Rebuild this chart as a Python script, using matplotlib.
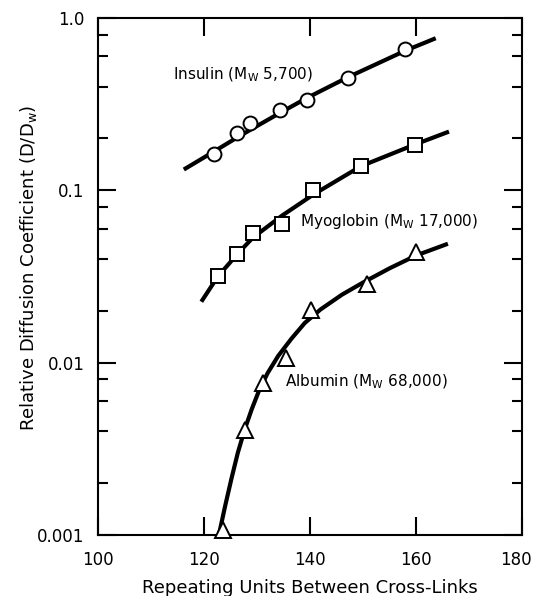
import numpy as np
import matplotlib
matplotlib.use('Agg')
import matplotlib.pyplot as plt
from matplotlib.ticker import LogLocator, FixedLocator, NullFormatter
from matplotlib.transforms import ScaledTranslation

insulin_x = [121.9, 126.2, 128.6, 134.4, 139.4, 147.1, 158.0]
insulin_y = [0.162, 0.216, 0.245, 0.291, 0.334, 0.447, 0.66]

myoglobin_x = [122.6, 126.3, 129.2, 134.8, 140.6, 149.6, 159.7]
myoglobin_y = [0.032, 0.0428, 0.0566, 0.064, 0.100, 0.138, 0.182]

albumin_x = [123.5, 127.7, 131.2, 135.4, 140.2, 150.8, 159.9]
albumin_y = [0.00107, 0.0041, 0.0076, 0.0107, 0.0202, 0.0287, 0.0436]

# hand-drawn fit curves
insulin_fit_x = [116.2, 121.9, 126.2, 128.6, 134.4, 139.4, 147.1, 158.0, 163.7]
insulin_fit_y = [0.132, 0.168, 0.202, 0.223, 0.282, 0.343, 0.452, 0.646, 0.762]

myoglobin_fit_x = [119.5, 122.6, 126.3, 129.2, 134.8, 140.6, 149.6, 159.7, 166.2]
myoglobin_fit_y = [0.0226, 0.0316, 0.0427, 0.0531, 0.0716, 0.0944, 0.138, 0.184, 0.219]

albumin_fit_x = [122.8, 124.0, 125.2, 126.4, 127.7, 129.0, 130.4, 132.0, 134.0,
                 136.5, 139.0, 142.0, 146.0, 150.0, 155.0, 160.0, 166.0]
albumin_fit_y = [0.001, 0.00148, 0.00214, 0.00302, 0.00412, 0.00537, 0.00692, 0.00871,
                 0.01096, 0.0138, 0.0170, 0.0204, 0.0248, 0.0292, 0.0353, 0.0419, 0.0490]

xticks = [100, 120, 140, 160, 180]
yticks = [0.001, 0.01, 0.1, 1.0]
yticklabels = ['0.001', '0.01', '0.1', '1.0']

fig = plt.figure(figsize=(5.35, 5.96), dpi=100, facecolor='white')
ax = fig.add_axes([0.183, 0.102, 0.793, 0.868])

lw = 3.0
for fx, fy in [(insulin_fit_x, insulin_fit_y),
               (myoglobin_fit_x, myoglobin_fit_y),
               (albumin_fit_x, albumin_fit_y)]:
    ax.plot(fx, fy, '-', color='black', linewidth=lw, solid_capstyle='butt',
            solid_joinstyle='round', zorder=2)

ax.plot(insulin_x, insulin_y, 'o', ms=10, mfc='white', mec='black', mew=1.4, zorder=3,
        clip_on=False)
ax.plot(myoglobin_x, myoglobin_y, 's', ms=9.5, mfc='white', mec='black', mew=1.4, zorder=3,
        clip_on=False)
ax.plot(albumin_x, albumin_y, '^', ms=11, mfc='white', mec='black', mew=1.4, zorder=3,
        clip_on=False)

ax.set_yscale('log')
ax.set_xlim(100, 180)
ax.set_ylim(0.001, 1.0)

ax.xaxis.set_major_locator(FixedLocator(xticks))
ax.set_xticklabels([str(v) for v in xticks])
ax.yaxis.set_major_locator(FixedLocator(yticks))
ax.set_yticklabels(yticklabels)
ax.yaxis.set_minor_locator(LogLocator(base=10, subs=[2, 4, 6, 8]))
ax.yaxis.set_minor_formatter(NullFormatter())

ax.tick_params(which='both', direction='in', top=True, right=True, width=1.5,
               labelsize=12, colors='black')
ax.tick_params(axis='x', which='major', length=13, pad=11.5, labelsize=12)
ax.tick_params(axis='y', which='major', length=13, pad=9.5)
ax.tick_params(axis='y', which='minor', length=7.5)
for s in ax.spines.values():
    s.set_linewidth(1.5)

# the last x label sits a little left of its tick, as in the original
last = ax.xaxis.get_major_ticks()[-1].label1
last.set_transform(last.get_transform() + ScaledTranslation(-0.06, 0, fig.dpi_scale_trans))

txt = dict(fontsize=11, color='black')
ax.text(114.2, 0.47, r'Insulin (M$_\mathregular{W}$ 5,700)', va='center', **txt)
ax.text(138.2, 0.066, r'Myoglobin (M$_\mathregular{W}$ 17,000)', va='center', **txt)
ax.text(135.2, 0.0078, r'Albumin (M$_\mathregular{W}$ 68,000)', va='center', **txt)

ax.set_xlabel('Repeating Units Between Cross-Links', fontsize=13, labelpad=7)
ax.set_ylabel(r'Relative Diffusion Coefficient (D/D$_\mathregular{w}$)', fontsize=13,
              labelpad=5)
ax.yaxis.set_label_coords(-0.14, 0.517)

fig.savefig('out.png', dpi=100, facecolor='white')
